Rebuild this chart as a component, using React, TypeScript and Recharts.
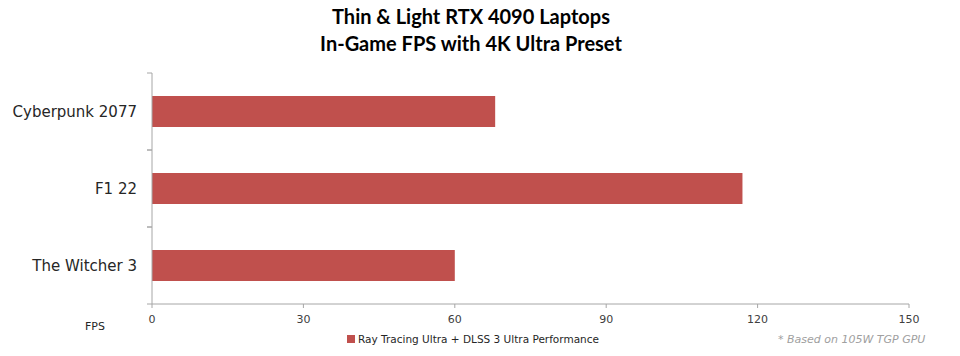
import React from "react";
import { BarChart, Bar, XAxis, YAxis } from "recharts";

// FPS per game
const games = ["Cyberpunk 2077", "F1 22", "The Witcher 3"];
const fps = [68, 117, 60];
const fpsTicks = [0, 30, 60, 90, 120, 150];
const seriesName = "Ray Tracing Ultra + DLSS 3 Ultra Performance";

const data = games.map((name, i) => ({ name, fps: fps[i] }));

const FONT = "'Century Gothic', 'DejaVu Sans', sans-serif";
const AXIS = "#a6a6a6";
const BAR = "#c0504d";
const BAND = 77;

// category labels with Excel-like boundary ticks
const GameTick = (props: any) => {
  const { x, y, payload } = props;
  return (
    <g>
      <line x1={x + 10} x2={x + 15} y1={y - BAND / 2} y2={y - BAND / 2} stroke={AXIS} />
      <line x1={x + 10} x2={x + 15} y1={y + BAND / 2} y2={y + BAND / 2} stroke={AXIS} />
      <text x={x} y={y} dy="0.35em" textAnchor="end" fontSize={15} fill="#262626" fontFamily={FONT}>
        {payload.value}
      </text>
    </g>
  );
};

export default function App() {
  return (
    <div style={{ position: "absolute", left: 0, top: 0, width: 960, height: 356, background: "#fff", fontFamily: FONT }}>
      <div
        style={{
          position: "absolute",
          top: 3,
          left: 0,
          width: 942,
          textAlign: "center",
          fontWeight: "bold",
          fontSize: 20,
          lineHeight: "27px",
          color: "#000",
          fontFamily: "Lato, sans-serif",
        }}
      >
        Thin &amp; Light RTX 4090 Laptops
        <br />
        In-Game FPS with 4K Ultra Preset
      </div>
      <BarChart
        width={960}
        height={356}
        data={data}
        layout="vertical"
        margin={{ top: 73, right: 51, bottom: 22, left: 0 }}
        barCategoryGap={0}
      >
        <XAxis
          type="number"
          domain={[0, 150]}
          ticks={fpsTicks}
          interval={0}
          stroke={AXIS}
          tickSize={4}
          tickMargin={7}
          tick={{ fill: "#404040", fontSize: 11, fontFamily: FONT }}
        />
        <YAxis
          type="category"
          dataKey="name"
          width={152}
          stroke={AXIS}
          tickLine={false}
          tickMargin={9}
          tick={<GameTick />}
        />
        <Bar dataKey="fps" name={seriesName} fill={BAR} barSize={31} isAnimationActive={false} />
      </BarChart>
      <div style={{ position: "absolute", left: 85, top: 320, fontSize: 11, color: "#262626" }}>FPS</div>
      <div
        style={{
          position: "absolute",
          top: 333,
          left: 0,
          width: 946,
          textAlign: "center",
          fontSize: 10.5,
          color: "#262626",
        }}
      >
        <span style={{ display: "inline-block", width: 8, height: 8, background: BAR, marginRight: 3 }} />
        {seriesName}
      </div>
      <div style={{ position: "absolute", left: 778, top: 333, fontSize: 11, color: "#a0a0a0", fontStyle: "italic" }}>
        * Based on 105W TGP GPU
      </div>
    </div>
  );
}
